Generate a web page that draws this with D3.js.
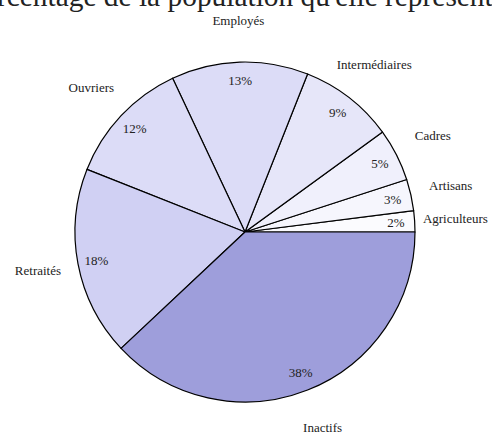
<!DOCTYPE html>
<html>
<head>
<meta charset="utf-8">
<script src="https://cdn.jsdelivr.net/npm/d3@7"></script>
<style>
  body { margin: 0; background: #fff; }
  svg { display: block; }
  text { font-family: "Liberation Serif", "DejaVu Serif", serif; fill: #222; }
</style>
</head>
<body>
<div class="container"></div>
<script>
// categories and shares (%), going counterclockwise from the east
const categories = ['Agriculteurs', 'Artisans', 'Cadres', 'Intermédiaires', 'Employés', 'Ouvriers', 'Retraités', 'Inactifs'];
const shares = [2, 3, 5, 9, 13, 12, 18, 38];
const fills = ['#fbfbfe', '#f6f6fd', '#f0f0fc', '#e6e6f9', '#dcdcf7', '#dcdcf7', '#d0d0f3', '#9e9edb'];
const title = "Pourcentage de la population qu'elle représente";

const width = 492, height = 432;
const cx = 245, cy = 232, R = 170;

const svg = d3.select('.container')
  .append('svg')
  .attr('width', width)
  .attr('height', height);

// title, mostly off the top of the frame; "Pou" hangs off the left edge
const titleSize = 29.4;
const probe = svg.append('text').style('font-size', titleSize + 'px').text('Pou');
const offLeft = probe.node().getComputedTextLength() + 3;
probe.remove();

svg.append('text')
  .attr('x', -offLeft)
  .attr('y', 6)
  .attr('text-anchor', 'start')
  .style('font-size', titleSize + 'px')
  .text(title);

const data = categories.map((c, i) => ({ name: c, value: shares[i], fill: fills[i] }));

// counterclockwise from 3 o'clock
const pie = d3.pie()
  .value(d => d.value)
  .sort(null)
  .startAngle(Math.PI / 2)
  .endAngle(Math.PI / 2 - 2 * Math.PI);

const arcs = pie(data);
const arc = d3.arc().innerRadius(0).outerRadius(R);
const pctArc = d3.arc().innerRadius(R * 0.89).outerRadius(R * 0.89);
const labelArc = d3.arc().innerRadius(R * 1.24).outerRadius(R * 1.24);

const g = svg.append('g').attr('transform', `translate(${cx},${cy})`);

g.selectAll('path')
  .data(arcs)
  .join('path')
  .attr('d', arc)
  .attr('fill', d => d.data.fill)
  .attr('stroke', '#000')
  .attr('stroke-width', 1.2)
  .attr('stroke-linejoin', 'round');

g.selectAll('text.pct')
  .data(arcs)
  .join('text')
  .attr('class', 'pct')
  .attr('transform', d => `translate(${pctArc.centroid(d)})`)
  .attr('text-anchor', 'middle')
  .attr('dy', '0.35em')
  .style('font-size', '13px')
  .text(d => d.data.value + '%');

g.selectAll('text.lbl')
  .data(arcs)
  .join('text')
  .attr('class', 'lbl')
  .attr('transform', d => `translate(${labelArc.centroid(d)})`)
  .attr('text-anchor', 'middle')
  .attr('dy', '0.3em')
  .style('font-size', '13px')
  .text(d => d.data.name);
</script>
</body>
</html>
